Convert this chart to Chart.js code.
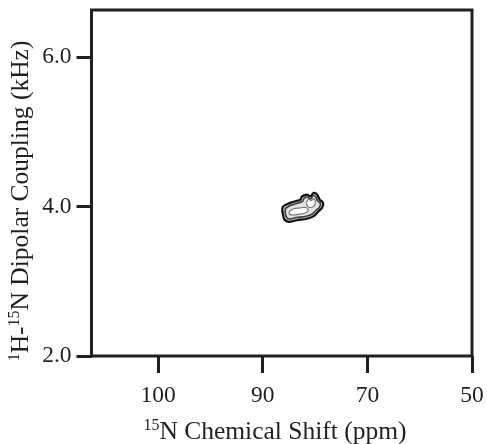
<!DOCTYPE html>
<html>
<head>
<meta charset="utf-8">
<script src="https://cdn.jsdelivr.net/npm/chart.js@4.4.1/dist/chart.umd.min.js"></script>
<style>
  html, body { margin: 0; padding: 0; background: #fff; }
  #wrap { width: 487px; height: 444px; position: relative; }
</style>
</head>
<body>
<div id="wrap"><canvas id="nmrChart"></canvas></div>
<script>
// tick labels on the 15N axis (they sit at equal spacing in the figure)
const xTickLabels = ['100', '90', '70', '50'];
const xTickPos = [0, 1, 2, 3];
const yTicks = [2.0, 4.0, 6.0];

// contour levels of the single peak: x in tick-position units, y in kHz
const contourOuter = [
  [1.184, 3.96], [1.196, 4.004], [1.263, 4.049], [1.311, 4.071], [1.359, 4.093],
  [1.375, 4.137], [1.423, 4.16], [1.455, 4.137], [1.486, 4.183], [1.519, 4.16],
  [1.544, 4.093], [1.576, 4.049], [1.567, 3.983], [1.534, 3.937], [1.486, 3.871],
  [1.423, 3.836], [1.327, 3.817], [1.247, 3.796], [1.206, 3.827], [1.193, 3.893],
  [1.184, 3.96]
];
const contourMid = [
  [1.215, 3.973], [1.263, 4.013], [1.321, 4.04], [1.378, 4.067], [1.397, 4.113],
  [1.426, 4.127], [1.455, 4.1], [1.483, 4.147], [1.507, 4.127], [1.522, 4.08],
  [1.55, 4.04], [1.541, 3.987], [1.507, 3.947], [1.464, 3.893], [1.407, 3.867],
  [1.321, 3.853], [1.254, 3.833], [1.225, 3.86], [1.215, 3.92], [1.215, 3.973]
];
const contourInnerLow = [
  [1.254, 3.933], [1.292, 3.967], [1.349, 3.98], [1.407, 3.987], [1.435, 3.96],
  [1.416, 3.92], [1.359, 3.9], [1.282, 3.887], [1.254, 3.9], [1.254, 3.933]
];
const contourInnerHigh = [
  [1.416, 4.053], [1.435, 4.1], [1.464, 4.08], [1.488, 4.107], [1.502, 4.067],
  [1.493, 4.013], [1.455, 3.987], [1.426, 4.007], [1.416, 4.053]
];

const ink = '#231f20';
const serif = '"Liberation Serif", "Times New Roman", serif';

const xTitle = [{ t: '15', sup: true }, { t: 'N Chemical Shift (ppm)' }];
const yTitle = [{ t: '1', sup: true }, { t: 'H-' }, { t: '15', sup: true }, { t: 'N Dipolar Coupling (kHz)' }];

// write a title made of normal and superscript pieces, centred on cx
function drawRuns(ctx, runs, cx, baseline) {
  const fontFor = r => (r.sup ? '16px ' : '25.5px ') + serif;
  let total = 0;
  runs.forEach(r => { ctx.font = fontFor(r); total += ctx.measureText(r.t).width; });
  let x = cx - total / 2;
  runs.forEach(r => {
    ctx.font = fontFor(r);
    ctx.fillText(r.t, x, baseline - (r.sup ? 9 : 0));
    x += ctx.measureText(r.t).width;
  });
}

const frameAndTitles = {
  id: 'frameAndTitles',
  afterDraw(chart) {
    const { ctx, chartArea: a } = chart;
    ctx.save();
    ctx.strokeStyle = ink;
    ctx.lineWidth = 3;
    ctx.strokeRect(a.left, a.top, a.right - a.left, a.bottom - a.top);
    ctx.fillStyle = ink;
    ctx.textBaseline = 'alphabetic';
    drawRuns(ctx, xTitle, 275, 439);
    ctx.translate(28, 201);
    ctx.rotate(-Math.PI / 2);
    drawRuns(ctx, yTitle, 0, 0);
    ctx.restore();
  }
};

function contourSet(points, color, width, fillColor) {
  return {
    data: points.map(p => ({ x: p[0], y: p[1] })),
    showLine: true,
    borderColor: color,
    borderWidth: width,
    backgroundColor: fillColor,
    fill: 'shape',
    tension: 0.35,
    pointRadius: 0
  };
}

// no extra padding from tick-label overhang, the frame is placed by hand
const noPad = s => { s.paddingTop = 0; s.paddingBottom = 0; s.paddingLeft = 0; s.paddingRight = 0; };

new Chart(document.getElementById('nmrChart'), {
  type: 'scatter',
  data: {
    datasets: [
      contourSet(contourInnerHigh, '#777777', 1.2, '#ffffff'),
      contourSet(contourInnerLow, '#777777', 1.2, '#ffffff'),
      contourSet(contourMid, '#3c3c3c', 1.6, '#e4e4e4'),
      contourSet(contourOuter, '#111111', 2.2, '#c4c4c4')
    ]
  },
  options: {
    responsive: true,
    maintainAspectRatio: false,
    animation: false,
    layout: { padding: { left: 0, right: 15, top: 10, bottom: 0 } },
    plugins: { legend: { display: false }, tooltip: { enabled: false } },
    scales: {
      x: {
        type: 'linear',
        min: -0.638,
        max: 3,
        afterBuildTicks: s => { s.ticks = xTickPos.map(v => ({ value: v })); },
        afterFit: s => { s.height = 88; noPad(s); },
        border: { display: false },
        grid: { drawOnChartArea: false, drawTicks: true, tickLength: 17, tickWidth: 3, tickColor: ink },
        ticks: {
          autoSkip: false, maxRotation: 0, padding: 9, color: ink,
          font: { family: serif, size: 23.5 },
          callback: v => { const i = xTickPos.indexOf(v); return i >= 0 ? xTickLabels[i] : ''; }
        }
      },
      y: {
        type: 'linear',
        min: 2,
        max: 6.63,
        afterBuildTicks: s => { s.ticks = yTicks.map(v => ({ value: v })); },
        afterFit: s => { s.width = 91.5; noPad(s); },
        border: { display: false },
        grid: { drawOnChartArea: false, drawTicks: true, tickLength: 15, tickWidth: 3, tickColor: ink },
        ticks: {
          padding: 5, color: ink,
          font: { family: serif, size: 23.5 },
          callback: v => v.toFixed(1)
        }
      }
    }
  },
  plugins: [frameAndTitles]
});
</script>
</body>
</html>
